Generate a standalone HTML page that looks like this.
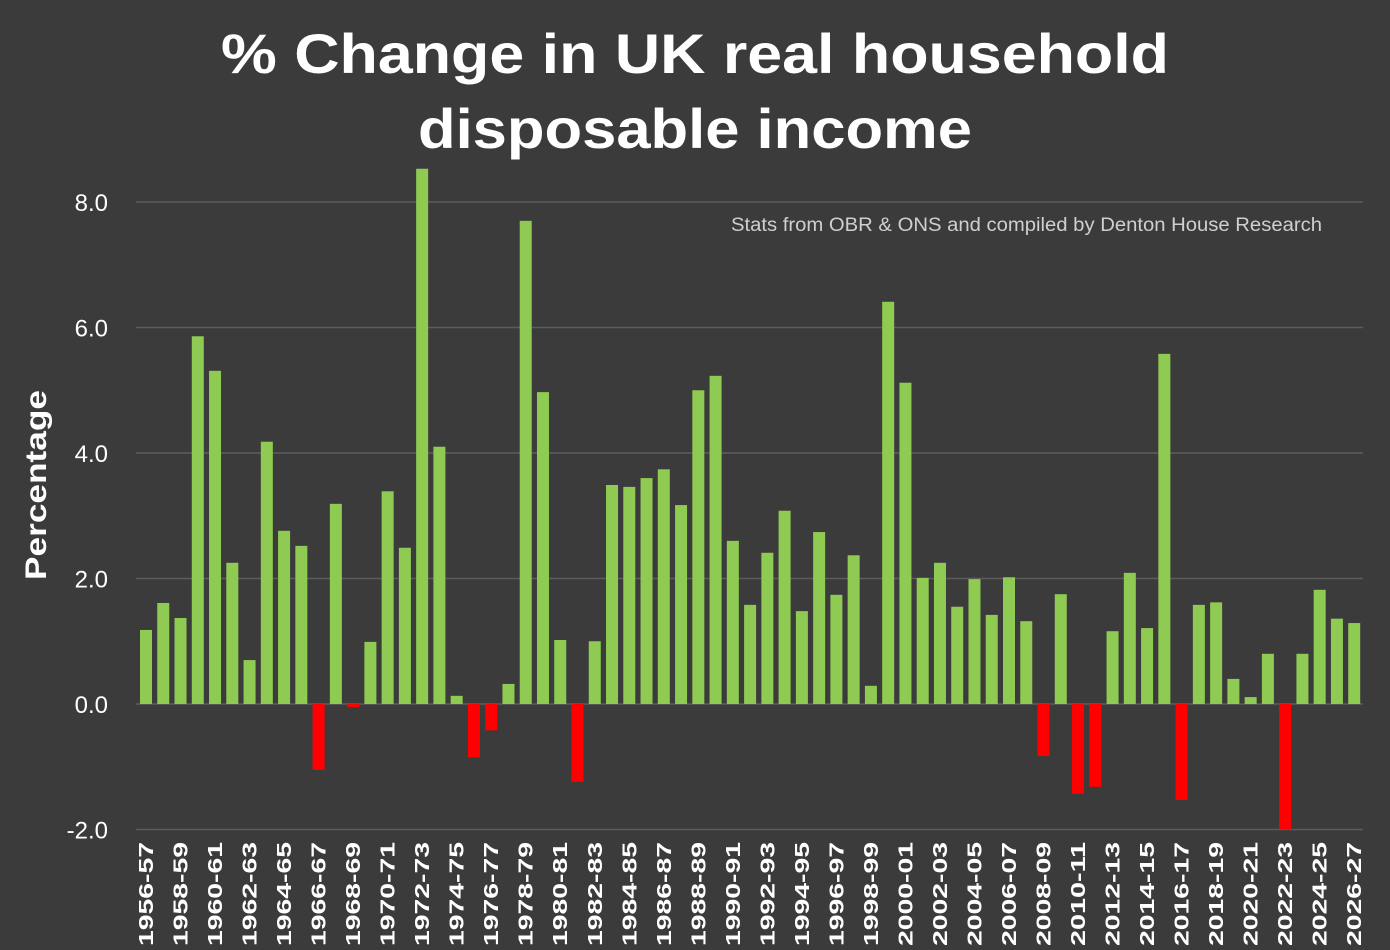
<!DOCTYPE html>
<html><head><meta charset="utf-8"><style>
html,body{margin:0;padding:0;background:#3b3b3b;}
svg{display:block;}
text{font-family:"Liberation Sans",sans-serif;}
</style></head><body>
<svg width="1390" height="950" viewBox="0 0 1390 950" xmlns="http://www.w3.org/2000/svg">
<rect width="1390" height="950" fill="#3b3b3b"/>
<text x="221" y="73" fill="#fff" font-size="56" font-weight="bold" textLength="948" lengthAdjust="spacingAndGlyphs">% Change in UK real household</text>
<text x="418" y="148" fill="#fff" font-size="56" font-weight="bold" textLength="554" lengthAdjust="spacingAndGlyphs">disposable income</text>
<text x="731" y="231" fill="#cfcfcf" font-size="19" textLength="591" lengthAdjust="spacingAndGlyphs">Stats from OBR &amp; ONS and compiled by Denton House Research</text>
<g id="grid" stroke="#5c5c5c" stroke-width="1.5"></g>
<g id="ylab" fill="#fff" font-size="24" text-anchor="end"></g>
<text transform="translate(46,485) rotate(-90)" text-anchor="middle" fill="#fff" font-size="30" font-weight="bold" textLength="190" lengthAdjust="spacingAndGlyphs">Percentage</text>
<g id="bars"></g>
<g id="xlab" fill="#fff" font-size="20" font-weight="bold"></g>
</svg>
<script>
var ns="http://www.w3.org/2000/svg";
var vals=[1.18,1.61,1.37,5.86,5.31,2.25,0.70,4.18,2.76,2.52,-1.05,3.19,-0.05,0.99,3.39,2.49,8.53,4.10,0.13,-0.85,-0.42,0.32,7.70,4.97,1.02,-1.24,1.00,3.49,3.46,3.60,3.74,3.17,5.00,5.23,2.60,1.58,2.41,3.08,1.48,2.74,1.74,2.37,0.29,6.41,5.12,2.01,2.25,1.55,1.99,1.42,2.02,1.32,-0.83,1.75,-1.43,-1.32,1.16,2.09,1.21,5.58,-1.53,1.58,1.62,0.40,0.11,0.80,-2.00,0.80,1.82,1.36,1.29];
var z=704,u=62.75;
function el(t,a,p,txt){var e=document.createElementNS(ns,t);for(var k in a)e.setAttribute(k,a[k]);if(txt)e.textContent=txt;document.getElementById(p).appendChild(e);}
[-2,0,2,4,6,8].forEach(function(v){var y=z-v*u;
 el("line",{x1:136,x2:1363,y1:y,y2:y},"grid");
 el("text",{x:108,y:y+9},"ylab",v.toFixed(1));});
vals.forEach(function(v,i){var cx=146+i*17.26;var y=v>=0?z-v*u:z;var h=Math.abs(v)*u;
 el("rect",{x:cx-6,y:y,width:12,height:Math.max(h,1),fill:v>=0?"#8fcb52":"#ff0000"},"bars");
 if(i%2==0){var s=1956+i;var lab=s+"-"+String((s+1)%100).padStart(2,"0");
  el("text",{transform:"translate("+(cx+7)+",842) rotate(-90)","text-anchor":"end",textLength:"104",lengthAdjust:"spacingAndGlyphs"},"xlab",lab);}
});
</script>
</body></html>
